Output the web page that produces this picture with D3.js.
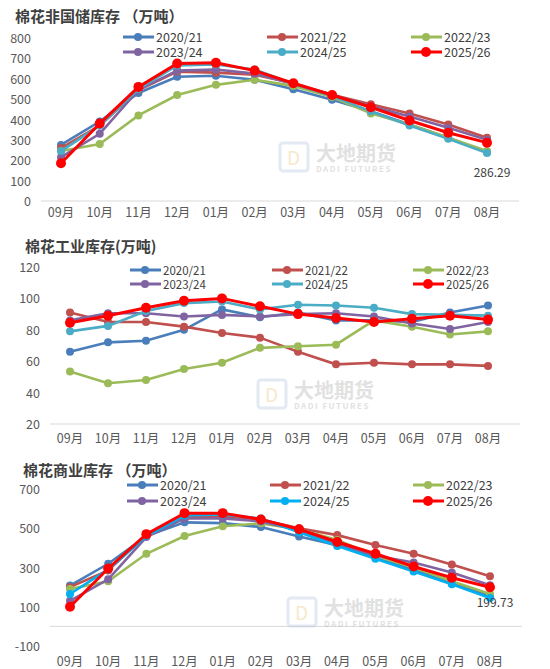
<!DOCTYPE html>
<html><head><meta charset="utf-8">
<script src="https://cdn.jsdelivr.net/npm/d3@7"></script>
<style>body{margin:0;background:#fff}svg{font-family:"Noto Sans CJK SC","DejaVu Sans",sans-serif}</style>
</head><body><svg id="c" width="550" height="669"></svg>
<script>
const months = ["09月","10月","11月","12月","01月","02月","03月","04月","05月","06月","07月","08月"];
const seasons = ["2020/21","2021/22","2022/23","2023/24","2024/25","2025/26"];

// 棉花非国储库存
const nonReserve = [
  [275,390,530,610,615,595,548,497,440,375,310,240],
  [260,370,545,635,630,620,578,522,475,430,375,310],
  [245,280,420,520,570,595,565,510,430,375,310,245],
  [215,330,545,640,645,625,575,520,465,415,360,300],
  [245,370,550,665,670,645,575,515,440,370,305,235],
  [185,380,560,675,678,640,578,520,460,395,335,286.29]
];
// 棉花工业库存
const industrial = [
  [66,72,73,80,93,88,91,86,86,85,91,95.5],
  [91,85,85,82,78,75,66,58,59,58,58,57],
  [53.5,46,48,55,59,68.5,69.5,70.5,86,82,77,79],
  [86,90.5,90.5,88.5,89.5,88.5,90,90.5,88.5,84,80.5,85],
  [79,82.5,92,97,98,93,96,95.5,94,90,89.5,89],
  [84.5,89,94,98.5,100,95,90,87.5,85,87,89,86.5]
];
// 棉花商业库存
const commercial = [
  [208,319,460,530,526,506,458,414,348,288,220,155],
  [200,285,465,555,560,545,500,465,415,370,315,255],
  [190,230,370,460,510,525,495,440,360,300,230,165],
  [130,240,455,550,550,535,490,420,360,325,275,210],
  [165,290,460,565,570,550,480,410,345,280,215,145],
  [100,295,470,577,577,545,495,430,370,305,248,199.73]
];

const svg = d3.select("#c");

function drawPanel(o) {
  const g = svg.append("g");
  const x = d3.scalePoint().domain(months).range([o.x0, o.x1]);
  const y = d3.scaleLinear().domain(o.domain).range([o.yb, o.yt]);

  g.append("text").attr("x", o.titleX).attr("y", o.titleY)
    .attr("font-size", 15).attr("font-weight", "bold").attr("fill", "#404040").text(o.title);

  // y tick labels
  o.ticks.forEach(t => {
    g.append("text").attr("x", o.labelX).attr("y", y(t) + 5)
      .attr("text-anchor", "end").attr("font-size", 12.5).attr("fill", "#595959").text(t);
  });
  // baseline
  g.append("line").attr("x1", o.x0 - 20).attr("x2", o.x1 + 32)
    .attr("y1", y(o.base)).attr("y2", y(o.base)).attr("stroke", "#d9d9d9");
  // x labels
  months.forEach(m => {
    g.append("text").attr("x", x(m)).attr("y", o.xlabY).attr("text-anchor", "middle")
      .attr("font-size", 12.5).attr("fill", "#595959").text(m);
  });

  // watermark
  const wm = g.append("g").attr("transform", `translate(${o.wm[0]},${o.wm[1]})`).attr("opacity", 0.35);
  wm.append("rect").attr("x", 0).attr("y", 0).attr("width", 28).attr("height", 28).attr("rx", 3)
    .attr("fill", "none").attr("stroke", "#b0c4de").attr("stroke-width", 3);
  wm.append("text").attr("x", 7).attr("y", 22).attr("font-size", 19).attr("fill", "#e8c070").text("D");
  wm.append("text").attr("x", 36).attr("y", 18).attr("font-size", 20).attr("font-weight", "bold").attr("fill", "#aaa").text("大地期货");
  wm.append("text").attr("x", 36).attr("y", 29).attr("font-size", 8).attr("font-weight", "bold")
    .attr("letter-spacing", 1.5).attr("fill", "#aaa").text("DADI FUTURES");

  const line = d3.line().x((d, i) => x(months[i])).y(d => y(d));
  o.data.forEach((s, k) => {
    const red = k === 5;
    g.append("path").attr("d", line(s)).attr("fill", "none")
      .attr("stroke", o.colors[k]).attr("stroke-width", red ? 3 : 2.6);
    g.selectAll(null).data(s).enter().append("circle")
      .attr("cx", (d, i) => x(months[i])).attr("cy", d => y(d))
      .attr("r", red ? 5 : 4).attr("fill", o.colors[k]);
  });

  // legend
  seasons.forEach((s, k) => {
    const lx = o.legX[k % 3], ly = o.legY[Math.floor(k / 3)];
    g.append("line").attr("x1", lx).attr("x2", lx + 31).attr("y1", ly).attr("y2", ly)
      .attr("stroke", o.colors[k]).attr("stroke-width", 3);
    g.append("circle").attr("cx", lx + 15).attr("cy", ly).attr("r", k === 5 ? 5 : 4).attr("fill", o.colors[k]);
    g.append("text").attr("x", lx + 33).attr("y", ly + 4.5).attr("font-size", o.legFont).attr("fill", "#404040").text(s);
  });

  // last-value label
  g.append("text").attr("x", o.x1 + 5).attr("y", y(o.data[5][11]) + o.lastDy).attr("text-anchor", "middle")
    .attr("font-size", 12).attr("fill", "#404040").text(o.last);
}

const baseColors = ["#4a7ebb", "#c0504d", "#9bbb59", "#8064a2", "#4bacc6", "#ff0000"];

drawPanel({
  title: "棉花非国储库存 （万吨）", titleX: 15, titleY: 22,
  domain: [0, 800], yb: 201, yt: 38, ticks: [0,100,200,300,400,500,600,700,800], base: 0,
  labelX: 31, x0: 61, x1: 487, xlabY: 217, data: nonReserve, colors: baseColors, legFont: 12.5,
  legX: [123, 267, 411], legY: [37, 52], wm: [280, 143], last: "286.29", lastDy: 34
});

drawPanel({
  title: "棉花工业库存(万吨)", titleX: 25, titleY: 252,
  domain: [20, 120], yb: 424, yt: 267, ticks: [20,40,60,80,100,120], base: 20,
  labelX: 40, x0: 70, x1: 488, xlabY: 443, data: industrial, colors: baseColors, legFont: 11.5,
  legX: [130, 272, 413], legY: [270, 284], wm: [258, 380], last: "", lastDy: 0
});

drawPanel({
  title: "棉花商业库存 （万吨）", titleX: 23, titleY: 476,
  domain: [-100, 700], yb: 646, yt: 489, ticks: [-100,100,300,500,700], base: 0,
  labelX: 40, x0: 70, x1: 490, xlabY: 666, data: commercial, legFont: 12.5,
  colors: ["#4a7ebb", "#c0504d", "#9bbb59", "#8064a2", "#00b0f0", "#ff0000"],
  legX: [127, 270, 413], legY: [485, 501], wm: [288, 598], last: "199.73", lastDy: 20
});
</script></body></html>
